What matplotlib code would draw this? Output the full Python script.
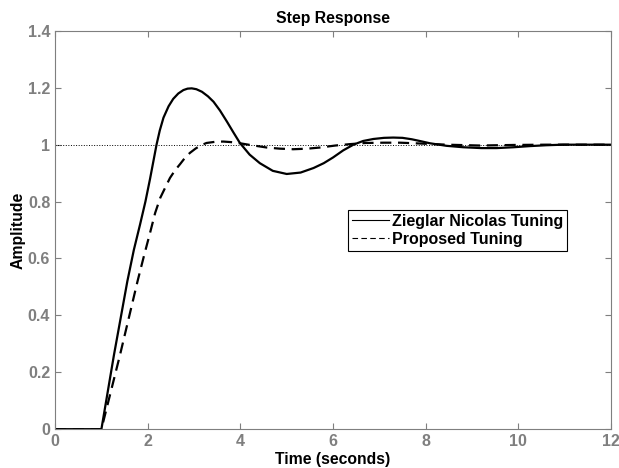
import matplotlib
matplotlib.use("Agg")
import matplotlib.pyplot as plt

# step response values
t_zn = [0, 1.0, 1.27, 1.56, 1.7, 1.835, 1.95, 2.05, 2.12, 2.19, 2.26, 2.34, 2.45,
        2.55, 2.66, 2.77, 2.86, 2.95, 3.05, 3.17, 3.3, 3.42, 3.56, 3.71, 3.85,
        3.99, 4.2, 4.42, 4.7, 5.0, 5.3, 5.58, 5.8, 6.0, 6.22, 6.44, 6.65, 6.87,
        7.1, 7.3, 7.5, 7.7, 7.9, 8.09, 8.45, 8.81, 9.2, 9.53, 9.9, 10.25, 10.6,
        10.97, 12]
y_zn = [0, 0, 0.26, 0.52, 0.63, 0.72, 0.80, 0.88, 0.94, 1.0, 1.05, 1.095, 1.135,
        1.161, 1.18, 1.192, 1.197, 1.198, 1.195, 1.186, 1.17, 1.151, 1.12, 1.081, 1.043,
        1.006, 0.965, 0.935, 0.908, 0.897, 0.902, 0.918, 0.935, 0.955, 0.98, 1.0, 1.013, 1.02,
        1.024, 1.025, 1.024, 1.019, 1.012, 1.005, 0.996, 0.991, 0.988, 0.988, 0.991, 0.995, 0.998,
        1.0, 1.0]

t_prop = [0, 1.0, 1.40, 1.78, 1.92, 2.05, 2.16, 2.27, 2.38, 2.48, 2.59, 2.70, 2.80,
          2.91, 3.03, 3.15, 3.27, 3.45, 3.63, 3.8, 3.99, 4.21, 4.57, 4.85, 5.14,
          5.45, 5.72, 6.05, 6.37, 6.7, 7.09, 7.45, 7.9, 8.45, 9.17, 9.9, 10.6, 12]
y_prop = [0, 0, 0.26, 0.52, 0.61, 0.69, 0.76, 0.813, 0.85, 0.883, 0.91, 0.932, 0.953,
          0.971, 0.986, 0.998, 1.006, 1.01, 1.011, 1.009, 1.005, 0.999, 0.99, 0.986, 0.984,
          0.986, 0.99, 0.997, 1.002, 1.006, 1.007, 1.007, 1.004, 1.0, 0.997, 0.999, 1.0, 1.0]

x_ticks = [0, 2, 4, 6, 8, 10, 12]
y_ticks = [0, 0.2, 0.4, 0.6, 0.8, 1, 1.2, 1.4]
y_tick_labels = ['0', '0.2', '0.4', '0.6', '0.8', '1', '1.2', '1.4']

plt.rcParams['font.family'] = ['Liberation Sans', 'DejaVu Sans']
plt.rcParams['font.weight'] = 'bold'

fig = plt.figure(figsize=(6.19, 4.68), dpi=100)
ax = fig.add_axes([0.089, 0.083, 0.898, 0.851])

ax.axhline(1.0, color='black', linestyle=':', linewidth=0.7)
ax.plot(t_zn, y_zn, color='black', linewidth=1.6, label='Zieglar Nicolas Tuning')
ax.plot(t_prop, y_prop, color='black', linewidth=1.6, linestyle=(0, (5, 3)),
        label='Proposed Tuning')

ax.set_xlim(0, 12)
ax.set_ylim(0, 1.4)
ax.set_xticks(x_ticks)
ax.set_yticks(y_ticks)
ax.set_yticklabels(y_tick_labels)
ax.tick_params(direction='in', top=True, right=True, length=4, width=0.8,
               colors='#7f7f7f', labelsize=11.5)
for s in ax.spines.values():
    s.set_color('#7f7f7f')

ax.set_title('Step Response', fontsize=11.3, fontweight='bold', pad=6)
ax.set_xlabel('Time (seconds)', fontsize=11.3, fontweight='bold')
ax.set_ylabel('Amplitude', fontsize=11.3, fontweight='bold')
ax.xaxis.set_label_coords(0.5, -0.058)
ax.yaxis.set_label_coords(-0.053, 0.5)

leg = ax.legend(loc='upper left', bbox_to_anchor=(0.527, 0.551), fontsize=11.5,
                handlelength=2.3, handletextpad=0.2, borderpad=0.25, labelspacing=0.2,
                fancybox=False, framealpha=1, borderaxespad=0)
leg.get_frame().set_edgecolor('black')
leg.get_frame().set_linewidth(0.8)
for h in leg.get_lines():
    h.set_linewidth(0.8)

fig.savefig('out.png', dpi=100)
